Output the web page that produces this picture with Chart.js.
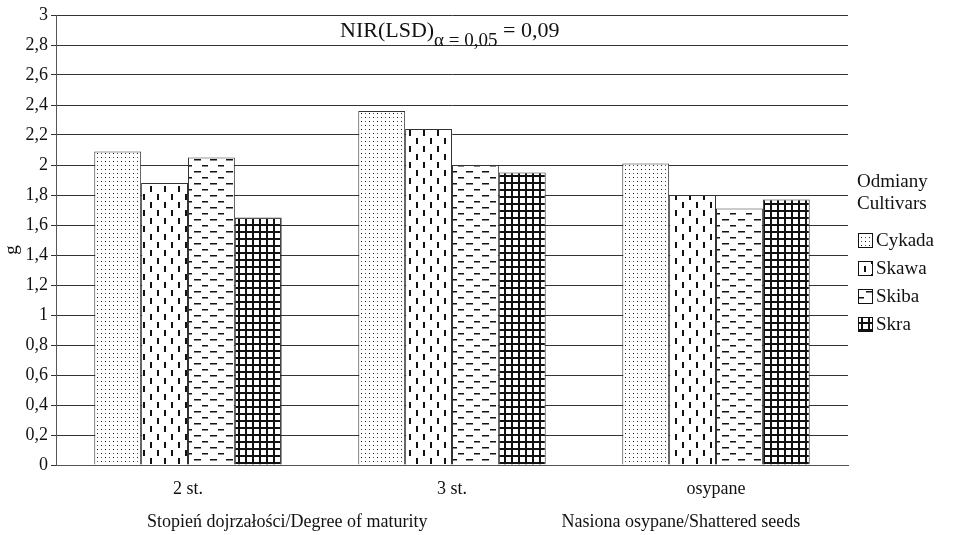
<!DOCTYPE html>
<html>
<head>
<meta charset="utf-8">
<script src="https://cdn.jsdelivr.net/npm/chart.js@4"></script>
<style>
  body { margin: 0; background: #fff; }
  #wrap { width: 958px; height: 535px; }
</style>
</head>
<body>
<div id="wrap"><canvas id="chart" width="958" height="535"></canvas></div>
<script>
const categories = ['2 st.', '3 st.', 'osypane'];
const cultivars = ['Cykada', 'Skawa', 'Skiba', 'Skra'];
const cykada = [2.09, 2.36, 2.01];
const skawa = [1.88, 2.24, 1.80];
const skiba = [2.05, 2.00, 1.71];
const skra = [1.65, 1.95, 1.77];
const legendTitle = ['Odmiany', 'Cultivars'];
const groupTitles = ['Stopień dojrzałości/Degree of maturity', 'Nasiona osypane/Shattered seeds'];
const serif = "'Liberation Serif', 'Times New Roman', serif";

// hatch patterns, drawn once on small tiles
function makePattern(w, h, draw) {
    const c = document.createElement('canvas');
    c.width = w; c.height = h;
    const g = c.getContext('2d');
    g.fillStyle = '#fff';
    g.fillRect(0, 0, w, h);
    g.fillStyle = '#111';
    draw(g);
    return g.createPattern(c, 'repeat');
}
const ctxMain = document.getElementById('chart').getContext('2d');
const patterns = [
    makePattern(8, 8, g => { g.fillRect(1, 1, 1, 1); g.fillRect(5, 5, 1, 1); g.fillStyle = '#555'; g.fillRect(5, 1, 1, 1); g.fillRect(1, 5, 1, 1); }),
    makePattern(14, 16, g => { g.fillRect(3, 2, 2, 6); g.fillRect(10, 10, 2, 6); }),
    makePattern(16, 12, g => { g.fillRect(2, 3, 7, 1.5); g.fillRect(10, 9, 7, 1.5); }),
    makePattern(7, 7, g => { g.fillRect(0, 0, 7, 2); g.fillRect(0, 0, 2, 7); })
];
const seriesValues = [cykada, skawa, skiba, skra];

const extras = {
    id: 'extras',
    afterDraw(chart) {
        const ctx = chart.ctx;
        const area = chart.chartArea;
        ctx.save();
        ctx.fillStyle = '#111';
        ctx.textBaseline = 'alphabetic';

        // LSD note at the top
        let x = 340;
        ctx.font = '22px ' + serif;
        ctx.fillText('NIR(LSD)', x, 37);
        x += ctx.measureText('NIR(LSD)').width;
        ctx.font = '19px ' + serif;
        ctx.fillText('\u03b1 = 0,05', x, 46);
        x += ctx.measureText('\u03b1 = 0,05').width;
        ctx.font = '22px ' + serif;
        ctx.fillText(' = 0,09', x, 37);

        // axis title "g"
        ctx.font = '19px ' + serif;
        ctx.textAlign = 'center';
        ctx.save();
        ctx.translate(17, 250);
        ctx.rotate(-Math.PI / 2);
        ctx.fillText('g', 0, 0);
        ctx.restore();

        // group titles under the axis
        ctx.font = '18px ' + serif;
        ctx.fillText(groupTitles[0], area.left + area.width * 0.292, 527);
        ctx.fillText(groupTitles[1], area.left + area.width * 0.789, 527);

        // legend on the right
        ctx.textAlign = 'left';
        ctx.font = '19px ' + serif;
        ctx.fillText(legendTitle[0], 857, 187);
        ctx.fillText(legendTitle[1], 857, 209);
        chart.data.datasets.forEach((ds, i) => {
            const y = 233 + i * 28;
            ctx.fillStyle = ds.backgroundColor;
            ctx.fillRect(858, y, 14, 14);
            ctx.strokeStyle = '#111';
            ctx.lineWidth = 1;
            ctx.strokeRect(858.5, y + 0.5, 14, 14);
            ctx.fillStyle = '#111';
            ctx.fillText(ds.label, 876, y + 13);
        });
        ctx.restore();
    }
};

function draw() {
    new Chart(ctxMain, {
        type: 'bar',
        data: {
            labels: categories,
            datasets: cultivars.map((name, i) => ({
                label: name,
                data: seriesValues[i],
                backgroundColor: patterns[i],
                borderColor: '#333',
                borderWidth: 1,
                categoryPercentage: 0.71,
                barPercentage: 1
            }))
        },
        options: {
            responsive: false,
            animation: false,
            layout: { padding: { top: 15, right: 110, bottom: 0, left: 0 } },
            plugins: { legend: { display: false }, tooltip: { enabled: false } },
            scales: {
                x: {
                    grid: { display: false },
                    border: { color: '#555', width: 1 },
                    ticks: { color: '#111', font: { family: serif, size: 18 }, padding: 5 },
                    afterFit: s => { s.height = 70; }
                },
                y: {
                    min: 0, max: 3,
                    grid: { color: '#333', lineWidth: 1, tickLength: 5 },
                    border: { color: '#555', width: 1 },
                    ticks: {
                        stepSize: 0.2,
                        color: '#111',
                        font: { family: serif, size: 18 },
                        padding: 3,
                        callback: v => String(Number(v.toFixed(1))).replace('.', ',')
                    },
                    afterFit: s => { s.width = 56; }
                }
            }
        },
        plugins: [extras]
    });
}

document.fonts.load("18px 'Liberation Serif'").then(draw, draw);
</script>
</body>
</html>
